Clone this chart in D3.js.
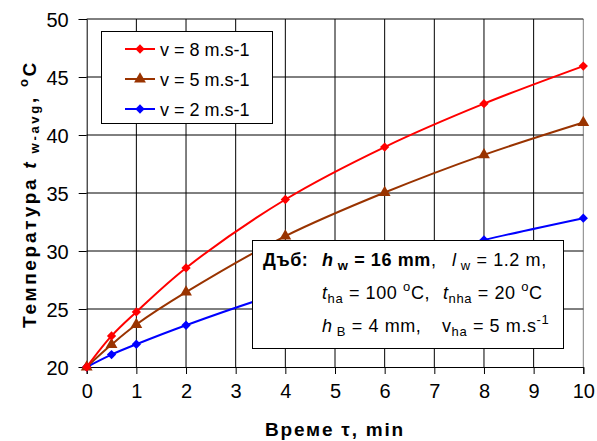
<!DOCTYPE html>
<html>
<head>
<meta charset="utf-8">
<script src="https://cdn.jsdelivr.net/npm/d3@7"></script>
<style>
  body { margin: 0; background: #fff; }
  svg { font-family: "Liberation Sans", Arial, sans-serif; }
</style>
</head>
<body>
<div id="canvas"></div>
<script>
// time points, min
let times = [0, 0.5, 1, 2, 4, 6, 8, 10]

// average water temperature, oC
let v8 = [20, 22.68, 24.75, 28.54, 34.44, 38.96, 42.7, 45.94]
let v5 = [20, 21.93, 23.66, 26.45, 31.28, 35.04, 38.29, 41.08]
let v2 = [20, 21.07, 21.96, 23.6, 26.5, 28.8, 30.95, 32.83]

let seriesNames = ["v = 8 m.s-1", "v = 5 m.s-1", "v = 2 m.s-1"]
let xTicks = [0, 1, 2, 3, 4, 5, 6, 7, 8, 9, 10]
let yTicks = [20, 25, 30, 35, 40, 45, 50]

window.onload = function (){setup()}

function setup(){

  let width = 597
  let height = 441
  let margin = {left: 86.7, right: 13.7, top: 19, bottom: 74}

  let svg = d3.select("#canvas")
    .append("svg")
    .attr("width", width)
    .attr("height", height)

  let x = d3.scaleLinear().domain([0, 10]).range([margin.left, width - margin.right])
  let y = d3.scaleLinear().domain([20, 50]).range([height - margin.bottom, margin.top])

  let series = [
    {name: seriesNames[0], values: v8, color: "#ff0000", marker: "diamond"},
    {name: seriesNames[1], values: v5, color: "#993300", marker: "triangle"},
    {name: seriesNames[2], values: v2, color: "#0000ff", marker: "diamond"}
  ]

  function drawGrid(){
    svg.append("g")
      .selectAll("line")
      .data(xTicks.slice(1))
      .join("line")
      .attr("x1", d => x(d))
      .attr("x2", d => x(d))
      .attr("y1", y(50))
      .attr("y2", y(20))
      .attr("stroke", d => d == 10 ? "#808080" : "#000")
      .attr("stroke-width", 1)

    svg.append("g")
      .selectAll("line")
      .data(yTicks.slice(1))
      .join("line")
      .attr("x1", x(0))
      .attr("x2", x(10))
      .attr("y1", d => y(d))
      .attr("y2", d => y(d))
      .attr("stroke", "#000")
      .attr("stroke-width", 1)
  }

  function drawAxes(){
    let xAxis = svg.append("g")
      .attr("transform", `translate(0,${y(20)})`)
      .call(d3.axisBottom(x).tickValues(xTicks).tickSize(7).tickPadding(10).tickFormat(d3.format("d")))
    let yAxis = svg.append("g")
      .attr("transform", `translate(${x(0)},0)`)
      .call(d3.axisLeft(y).tickValues(yTicks).tickSize(8).tickPadding(10).tickFormat(d3.format("d")))

    ;[xAxis, yAxis].forEach(ax => {
      ax.select(".domain").attr("stroke", "#000")
      ax.selectAll(".tick line").attr("stroke", "#000")
      ax.selectAll("text")
        .attr("font-family", "Liberation Sans, Arial, sans-serif")
        .attr("font-size", 20)
        .attr("fill", "#000")
    })
    yAxis.selectAll("text").attr("dy", "0.36em")

    // axis titles
    svg.append("text")
      .attr("x", (x(0) + x(10)) / 2)
      .attr("y", 436)
      .attr("text-anchor", "middle")
      .attr("font-weight", "bold")
      .attr("font-size", 19)
      .attr("letter-spacing", 1.8)
      .text("Време τ, min")

    let yt = svg.append("text")
      .attr("transform", "translate(36,194) rotate(-90)")
      .attr("text-anchor", "middle")
      .attr("font-weight", "bold")
      .attr("font-size", 19)
      .attr("letter-spacing", 2.7)
    yt.append("tspan").text("Температура  ")
    yt.append("tspan").attr("font-style", "italic").text("t")
    yt.append("tspan").attr("font-size", 13).attr("dy", 3).text(" w-avg")
    yt.append("tspan").attr("dy", -3).text(", ")
    yt.append("tspan").attr("font-size", 13).attr("dy", -8).text("o")
    yt.append("tspan").attr("dy", 8).text("C")
  }

  function markerPath(type, size){
    if (type == "triangle") return d3.symbol(d3.symbolTriangle, size * 1.1)()
    return d3.symbol(d3.symbolDiamond2, size)()
  }

  function drawSeries(){
    let line = d3.line()
      .x((d, i) => x(times[i]))
      .y(d => y(d))
      .curve(d3.curveCatmullRom)

    series.slice().reverse().forEach(s => {
      svg.append("path")
        .datum(s.values)
        .attr("d", line)
        .attr("fill", "none")
        .attr("stroke", s.color)
        .attr("stroke-width", 2)

      svg.append("g")
        .selectAll("path")
        .data(s.values)
        .join("path")
        .attr("transform", (d, i) => `translate(${x(times[i])},${y(d)})`)
        .attr("d", markerPath(s.marker, 55))
        .attr("fill", s.color)
    })
  }

  function drawNote(){
    svg.append("rect")
      .attr("x", 252.5)
      .attr("y", 240.5)
      .attr("width", 311)
      .attr("height", 108)
      .attr("fill", "#fff")
      .attr("stroke", "#000")
      .attr("stroke-width", 1)

    let fs = 18
    let sub = 13

    function addText(px, py, parts){
      let t = svg.append("text").attr("x", px).attr("y", py)
        .attr("font-size", fs)
        .attr("letter-spacing", 0.6)
      parts.forEach(p => {
        let ts = t.append("tspan").text(p.t)
        if (p.b) ts.attr("font-weight", "bold")
        if (p.i) ts.attr("font-style", "italic")
        if (p.sub) ts.attr("font-size", sub).attr("dy", 4)
        if (p.sup) ts.attr("font-size", sub).attr("dy", -8)
        if (p.back) ts.attr("dy", p.back)
      })
    }

    addText(263, 266, [
      {t: "Дъб:", b: true}
    ])
    addText(322, 266, [
      {t: "h", b: true, i: true},
      {t: " w", b: true, sub: true},
      {t: " = 16 mm", b: true, back: -4},
      {t: ","}
    ])
    addText(452, 266, [
      {t: "l", i: true},
      {t: " w", sub: true},
      {t: "  = 1.2 m,", back: -4}
    ])

    addText(322, 299, [
      {t: "t", i: true},
      {t: "ha", sub: true},
      {t: " = 100 ", back: -4},
      {t: "o", sup: true},
      {t: "C,", back: 8}
    ])
    addText(443, 299, [
      {t: "t", i: true},
      {t: "nha", sub: true},
      {t: " = 20 ", back: -4},
      {t: "o", sup: true},
      {t: "C", back: 8}
    ])

    addText(322, 332, [
      {t: "h", i: true},
      {t: " B", sub: true},
      {t: " = 4 mm,", back: -4}
    ])
    addText(442, 332, [
      {t: "v"},
      {t: "ha", sub: true},
      {t: " = 5 m.s", back: -4},
      {t: "-1", sup: true}
    ])
  }

  function drawLegend(){
    svg.append("rect")
      .attr("x", 101.5)
      .attr("y", 31.5)
      .attr("width", 171)
      .attr("height", 92)
      .attr("fill", "#fff")
      .attr("stroke", "#000")
      .attr("stroke-width", 1)

    let rows = svg.append("g")
      .selectAll("g")
      .data(series)
      .join("g")
      .attr("transform", (d, i) => `translate(0,${49 + i * 30})`)

    rows.append("line")
      .attr("x1", 125).attr("x2", 155)
      .attr("stroke", d => d.color)
      .attr("stroke-width", 2)
    rows.append("path")
      .attr("transform", "translate(140,0)")
      .attr("d", d => markerPath(d.marker, 55))
      .attr("fill", d => d.color)
    rows.append("text")
      .attr("x", 160)
      .attr("y", 6.5)
      .attr("font-size", 18)
      .text(d => d.name)
  }

  drawGrid()
  drawAxes()
  drawSeries()
  drawNote()
  drawLegend()
}
</script>
</body>
</html>
